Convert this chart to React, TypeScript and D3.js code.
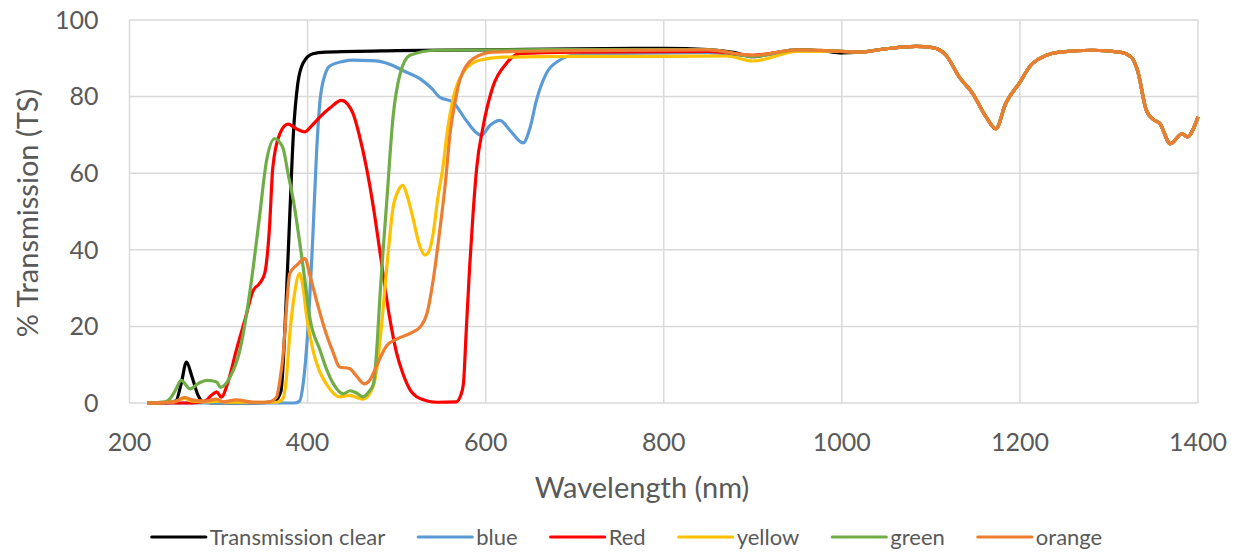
import { useEffect, useRef } from "react";
import * as d3 from "d3";

// wavelength (nm), % transmission pairs
const tail: [number, number][] = [
  [1020, 91.6], [1050, 92.5], [1083, 93.1], [1102, 92.8], [1117, 90.8], [1132, 85.1],
  [1147, 80.8], [1162, 74.7], [1173, 71.6], [1184, 78.2], [1199, 83.4], [1214, 88.6],
  [1244, 91.6], [1281, 92.1], [1312, 91.6], [1325, 90.3], [1332, 86.9], [1342, 76.4],
  [1350, 74], [1357, 73], [1369, 67.7], [1382, 70.3], [1388, 69.5], [1400, 74.7],
];

const clear: [number, number][] = [
  [220, 0], [240, 0], [252, 0.5], [258, 5], [264, 10.7], [270, 7], [277, 2], [283, 0.3],
  [300, 0], [340, 0], [362, 0.3], [370, 3], [376, 27], [380, 49], [384, 70], [389, 83.4],
  [395, 88.8], [406, 91.2], [420, 91.6], [500, 92], [600, 92.2], [700, 92.5], [800, 92.6],
  [850, 92.3], [880, 91.5], [900, 90.4], [920, 91.2], [950, 92.2], [980, 91.9], [1000, 91.4],
];

const blue: [number, number][] = [
  [220, 0], [300, 0], [385, 0], [391, 0.5], [395, 5], [400, 18], [406, 44], [410, 65],
  [414, 79], [420, 86], [425, 88], [440, 89.2], [451, 89.5], [470, 89.4], [481, 89.2],
  [495, 88.2], [507, 86.8], [526, 84.7], [540, 82], [548, 79.9], [563, 78.6], [578, 73.8],
  [590, 70.5], [595, 69.9], [605, 72.5], [616, 73.8], [628, 71], [642, 67.9], [650, 72],
  [657, 79], [668, 86], [683, 89.5], [698, 90.8], [750, 91.3], [850, 91.5], [900, 90.6],
  [950, 92], [1000, 91.8],
];

const red: [number, number][] = [
  [220, 0], [270, 0], [285, 0.5], [292, 2], [298, 2.9], [303, 1.5], [310, 5], [320, 13.8],
  [330, 22], [339, 29.4], [346, 31.2], [352, 34], [357, 45], [361, 61.6], [369, 70.4],
  [378, 72.8], [388, 71.5], [397, 70.8], [405, 72.5], [414, 74.7], [425, 77], [438, 79],
  [445, 78], [451, 75.6], [458, 70], [466, 61.6], [474, 51], [481, 39.9], [492, 22.5],
  [500, 13], [507, 7.7], [515, 3.5], [526, 1.2], [545, 0.2], [567, 0.3], [572, 2], [575, 5],
  [578, 18], [582, 35.5], [586, 50], [590, 61.6], [597, 72], [608, 82.5], [623, 88.6],
  [638, 91.2], [700, 91.6], [850, 91.8], [900, 90.8], [950, 92], [1000, 91.8],
];

const yellow: [number, number][] = [
  [220, 0], [250, 0.3], [262, 1.2], [270, 0.5], [290, 0.3], [300, 0.5], [310, 0.2],
  [365, 0.2], [372, 1], [376, 6], [380, 18], [385, 28], [391, 33.8], [395, 30], [399, 22.5],
  [406, 13.8], [413, 8.5], [421, 5], [436, 1.6], [447, 2], [462, 1], [470, 2.5], [477, 7.7],
  [483, 20], [489, 35.5], [496, 51], [502, 55.5], [507, 56.8], [512, 54], [518, 48.6],
  [526, 41], [532, 38.6], [537, 40], [541, 44.2], [546, 53], [552, 61.6], [557, 71],
  [563, 79], [575, 86.4], [593, 89.5], [619, 90.3], [700, 90.5], [800, 90.5], [870, 90.6],
  [900, 89.3], [950, 91.8], [1000, 91.8],
];

const green: [number, number][] = [
  [220, 0], [240, 0.3], [245, 1], [252, 3.5], [258, 5.9], [268, 3.7], [278, 5.2], [287, 5.9],
  [298, 5.5], [302, 4.1], [313, 6.8], [324, 13.8], [332, 24], [339, 35.5], [346, 48.6],
  [354, 63.4], [363, 69], [372, 66.8], [378, 60], [384, 52.9], [395, 35.5], [403, 21.6],
  [414, 13.8], [421, 9], [429, 5], [440, 2.4], [448, 3.2], [455, 2.6], [462, 1.6], [469, 3],
  [474, 5], [478, 15], [481, 26.8], [489, 52.9], [496, 74.7], [504, 86], [515, 90.8],
  [545, 92.1], [700, 92.3], [850, 92.3], [900, 90.5], [950, 92.2], [1000, 91.8],
];

const orange: [number, number][] = [
  [220, 0], [250, 0.3], [262, 1.5], [270, 0.8], [285, 0.5], [298, 1], [305, 0.3], [320, 0.8],
  [340, 0.2], [355, 0.2], [365, 1.5], [369, 6], [373, 13.8], [376, 24], [380, 33.8],
  [388, 36], [397, 37.7], [403, 33], [410, 26.8], [421, 18], [429, 13], [436, 9.4],
  [447, 9], [455, 7], [464, 5], [470, 6], [477, 9.4], [483, 12.5], [489, 15], [503, 17],
  [518, 18.5], [527, 20], [534, 23.3], [541, 32], [548, 44.2], [555, 58], [560, 70.4],
  [566, 79], [571, 84.3], [586, 89.9], [608, 91.6], [700, 92], [850, 92.2], [900, 90.8],
  [950, 92.2], [1000, 91.8],
];

const seriesNames = ["Transmission clear", "blue", "Red", "yellow", "green", "orange"];
const seriesColors = ["#000000", "#5B9BD5", "#FF0000", "#FFC000", "#70AD47", "#ED7D31"];
const seriesData = [clear, blue, red, yellow, green, orange];

const xTicks = [200, 400, 600, 800, 1000, 1200, 1400];
const yTicks = [0, 20, 40, 60, 80, 100];

const W = 1242;
const H = 552;
const FONT = "Lato, 'Open Sans', sans-serif";

export default function App() {
  const svgRef = useRef<SVGSVGElement>(null);

  useEffect(() => {
    const svg = d3.select(svgRef.current);
    svg.selectAll("*").remove();

    const margin = { top: 20, right: 44, bottom: 149, left: 129.5 };
    const width = W - margin.left - margin.right;
    const height = H - margin.top - margin.bottom;

    const x = d3.scaleLinear().domain([200, 1400]).range([0, width]);
    const y = d3.scaleLinear().domain([0, 100]).range([height, 0]);

    const g = svg.append("g").attr("transform", `translate(${margin.left},${margin.top})`);

    // gridlines
    g.append("g")
      .selectAll("line")
      .data(yTicks)
      .join("line")
      .attr("x1", 0)
      .attr("x2", width)
      .attr("y1", (d) => y(d))
      .attr("y2", (d) => y(d))
      .attr("stroke", "#D9D9D9")
      .attr("stroke-width", 1.5);

    g.append("g")
      .selectAll("line")
      .data(xTicks)
      .join("line")
      .attr("x1", (d) => x(d))
      .attr("x2", (d) => x(d))
      .attr("y1", 0)
      .attr("y2", height)
      .attr("stroke", "#D9D9D9")
      .attr("stroke-width", 1.5);

    // tick labels
    g.append("g")
      .selectAll("text")
      .data(yTicks)
      .join("text")
      .attr("x", -31)
      .attr("y", (d) => y(d))
      .attr("dy", "0.35em")
      .attr("text-anchor", "end")
      .attr("font-family", FONT)
      .attr("font-size", 25)
      .attr("fill", "#595959")
      .text((d) => d);

    g.append("g")
      .selectAll("text")
      .data(xTicks)
      .join("text")
      .attr("x", (d) => x(d))
      .attr("y", height + 39)
      .attr("dy", "0.35em")
      .attr("text-anchor", "middle")
      .attr("font-family", FONT)
      .attr("font-size", 25)
      .attr("fill", "#595959")
      .text((d) => d);

    // axis titles
    svg
      .append("text")
      .attr("x", 642)
      .attr("y", 488)
      .attr("dy", "0.35em")
      .attr("text-anchor", "middle")
      .attr("font-family", FONT)
      .attr("font-size", 29)
      .attr("fill", "#595959")
      .text("Wavelength (nm)");

    svg
      .append("text")
      .attr("transform", `translate(28,213) rotate(-90)`)
      .attr("dy", "0.35em")
      .attr("text-anchor", "middle")
      .attr("font-family", FONT)
      .attr("font-size", 29)
      .attr("fill", "#595959")
      .text("% Transmission (TS)");

    // series
    const line = d3
      .line<[number, number]>()
      .x((d) => x(d[0]))
      .y((d) => y(d[1]))
      .curve(d3.curveMonotoneX);

    seriesData.forEach((s, i) => {
      g.append("path")
        .datum([...s, ...tail])
        .attr("fill", "none")
        .attr("stroke", seriesColors[i])
        .attr("stroke-width", 3.2)
        .attr("stroke-linejoin", "round")
        .attr("d", line);
    });

    // legend
    const legend = svg.append("g");
    const sw = 54;
    const gap = 4;
    const itemGap = 33;
    let cx = 0;
    seriesNames.forEach((name, i) => {
      const item = legend.append("g").attr("transform", `translate(${cx},0)`);
      item
        .append("line")
        .attr("x1", 0)
        .attr("x2", sw)
        .attr("stroke", seriesColors[i])
        .attr("stroke-width", 3.2)
        .attr("stroke-linecap", "round");
      const t = item
        .append("text")
        .attr("x", sw + gap)
        .attr("dy", "0.35em")
        .attr("font-family", FONT)
        .attr("font-size", 22)
        .attr("fill", "#595959")
        .text(name);
      const tw = (t.node() as SVGTextElement).getComputedTextLength();
      cx += sw + gap + tw + itemGap;
    });
    const total = cx - itemGap;
    legend.attr("transform", `translate(${627 - total / 2},537)`);
  }, []);

  return (
    <div style={{ position: "fixed", left: 0, top: 0, background: "#fff" }}>
      <svg ref={svgRef} width={W} height={H} style={{ display: "block" }} />
    </div>
  );
}
